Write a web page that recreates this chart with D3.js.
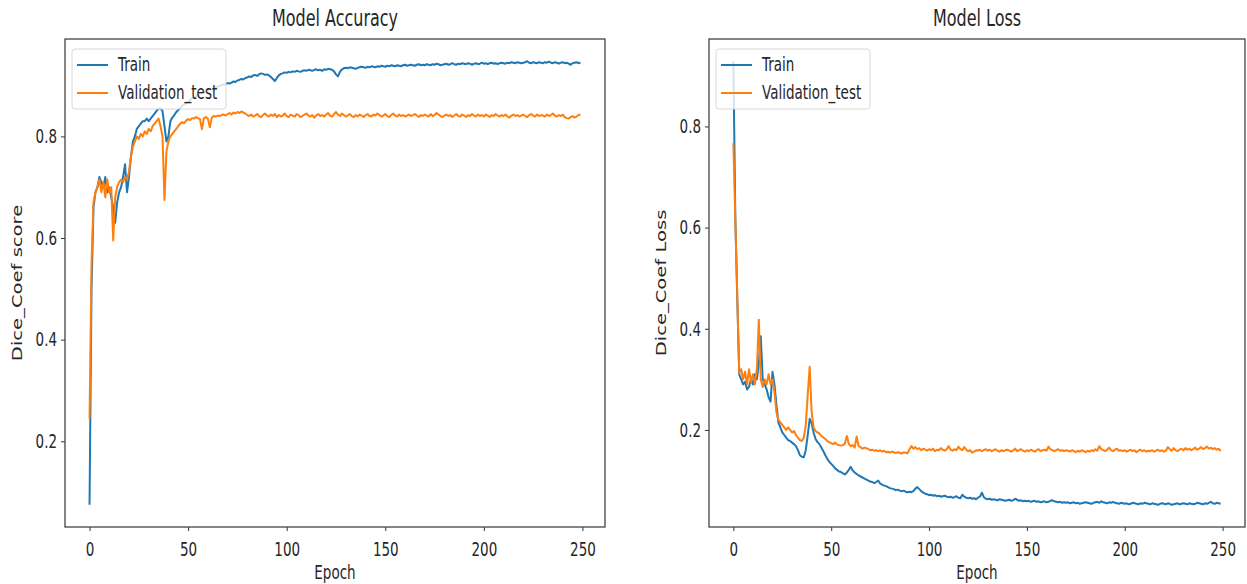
<!DOCTYPE html>
<meta charset="utf-8">
<style>
body { margin: 0; background: #fff; }
text { font-family: "DejaVu Sans", sans-serif; fill: #262626; }
</style>
<svg width="1247" height="584"></svg>
<script src="https://d3js.org/d3.v7.min.js"></script>
<script>

// ---- data ----
var epochTicks = [0, 50, 100, 150, 200, 250];
var yTicks = [0.2, 0.4, 0.6, 0.8];
var seriesNames = ["Train", "Validation_test"];

var accTrain = [
  0.075, 0.50, 0.66, 0.69, 0.70, 0.72, 0.71, 0.70, 0.72, 0.69,
  0.70, 0.68, 0.66, 0.63, 0.67, 0.69, 0.70, 0.72, 0.745, 0.69,
  0.72, 0.76, 0.79, 0.80, 0.815, 0.82, 0.825, 0.83, 0.83, 0.835,
  0.83, 0.835, 0.84, 0.845, 0.85, 0.855, 0.855, 0.85, 0.82, 0.79,
  0.80, 0.83, 0.837, 0.842, 0.848, 0.852, 0.856, 0.86, 0.863, 0.866,
  0.868, 0.872, 0.875, 0.877, 0.879, 0.882, 0.884, 0.886, 0.888, 0.889,
  0.891, 0.893, 0.892, 0.895, 0.897, 0.898, 0.899, 0.901, 0.902, 0.903,
  0.905, 0.904, 0.906, 0.908, 0.907, 0.910, 0.911, 0.913, 0.912, 0.915,
  0.916, 0.918, 0.917, 0.920, 0.921, 0.919, 0.922, 0.924, 0.923, 0.921,
  0.922, 0.920, 0.917, 0.913, 0.909, 0.915, 0.920, 0.923, 0.924, 0.926,
  0.925, 0.927, 0.926, 0.928, 0.927, 0.929, 0.928, 0.927, 0.929, 0.930,
  0.929, 0.931, 0.930, 0.929, 0.931, 0.932, 0.930, 0.931, 0.929, 0.932,
  0.931, 0.933, 0.932, 0.931, 0.928, 0.922, 0.918, 0.927, 0.932, 0.934,
  0.935, 0.934, 0.936, 0.935, 0.934, 0.933, 0.935, 0.936, 0.937, 0.936,
  0.935, 0.937, 0.936, 0.938, 0.937, 0.936, 0.938, 0.937, 0.939, 0.938,
  0.937, 0.939, 0.938, 0.940, 0.939, 0.938, 0.940, 0.939, 0.938, 0.940,
  0.941, 0.939, 0.940, 0.941, 0.940, 0.939, 0.941, 0.942, 0.940, 0.941,
  0.940, 0.942, 0.941, 0.940, 0.942, 0.941, 0.943, 0.942, 0.940, 0.941,
  0.942, 0.943, 0.941, 0.942, 0.944, 0.942, 0.941, 0.943, 0.942, 0.944,
  0.943, 0.942, 0.944, 0.943, 0.941, 0.943, 0.944, 0.942, 0.943, 0.945,
  0.943, 0.944, 0.942, 0.944, 0.945, 0.943, 0.944, 0.942, 0.944, 0.945,
  0.944, 0.943, 0.945, 0.944, 0.946, 0.945, 0.944, 0.946, 0.945, 0.944,
  0.945, 0.946, 0.948, 0.945, 0.944, 0.946, 0.945, 0.944, 0.946, 0.945,
  0.944, 0.946, 0.945, 0.947, 0.945, 0.944, 0.946, 0.945, 0.943, 0.945,
  0.946, 0.944, 0.945, 0.943, 0.941, 0.944, 0.945, 0.946, 0.944, 0.945
];

var accVal = [
  0.245, 0.55, 0.67, 0.69, 0.70, 0.715, 0.69, 0.71, 0.68, 0.715,
  0.69, 0.70, 0.595, 0.68, 0.70, 0.71, 0.715, 0.71, 0.72, 0.715,
  0.73, 0.76, 0.78, 0.79, 0.80, 0.795, 0.805, 0.80, 0.81, 0.805,
  0.815, 0.81, 0.82, 0.825, 0.83, 0.835, 0.82, 0.80, 0.675, 0.77,
  0.79, 0.80, 0.805, 0.81, 0.815, 0.82, 0.825, 0.828, 0.826, 0.831,
  0.834, 0.832, 0.836, 0.835, 0.838, 0.836, 0.834, 0.814, 0.836, 0.838,
  0.835, 0.818, 0.837, 0.840, 0.839, 0.841, 0.840, 0.842, 0.843, 0.841,
  0.844, 0.846, 0.843, 0.847, 0.845, 0.848, 0.846, 0.849, 0.847, 0.845,
  0.842, 0.840, 0.843, 0.839, 0.841, 0.844, 0.840, 0.838, 0.842, 0.845,
  0.841, 0.839, 0.843, 0.840, 0.844, 0.838, 0.842, 0.839, 0.841, 0.845,
  0.840, 0.838, 0.843, 0.841, 0.839, 0.844, 0.842, 0.838, 0.840, 0.843,
  0.845, 0.841, 0.839, 0.842, 0.837, 0.841, 0.844, 0.840, 0.842, 0.839,
  0.843, 0.846, 0.841, 0.839, 0.844, 0.848, 0.843, 0.840, 0.845, 0.842,
  0.839, 0.841, 0.844, 0.840, 0.838, 0.842, 0.839, 0.843, 0.841, 0.838,
  0.842, 0.844, 0.840, 0.839, 0.843, 0.841, 0.845, 0.842, 0.839, 0.841,
  0.844, 0.840, 0.838, 0.842, 0.845, 0.841, 0.839, 0.843, 0.840, 0.842,
  0.839, 0.841, 0.843, 0.840, 0.842, 0.844, 0.841, 0.838, 0.842, 0.840,
  0.843, 0.841, 0.839, 0.844, 0.840, 0.842, 0.846, 0.843, 0.840, 0.838,
  0.841, 0.843, 0.840, 0.842, 0.838, 0.841, 0.844, 0.840, 0.839, 0.843,
  0.841, 0.838, 0.842, 0.840, 0.844, 0.841, 0.839, 0.843, 0.840, 0.842,
  0.839, 0.843, 0.841, 0.838, 0.842, 0.840, 0.844, 0.841, 0.839, 0.842,
  0.840, 0.843, 0.839, 0.837, 0.841, 0.843, 0.840, 0.842, 0.839, 0.841,
  0.843, 0.840, 0.838, 0.842, 0.844, 0.841, 0.839, 0.843, 0.840, 0.842,
  0.841, 0.839, 0.843, 0.840, 0.842, 0.845, 0.841, 0.839, 0.842, 0.840,
  0.843, 0.838, 0.836, 0.835, 0.838, 0.840, 0.837, 0.839, 0.842, 0.843
];

var lossTrain = [
  0.929, 0.62, 0.46, 0.31, 0.30, 0.29, 0.295, 0.28, 0.285, 0.30,
  0.29, 0.31, 0.30, 0.33, 0.385, 0.30, 0.29, 0.28, 0.265, 0.256,
  0.315, 0.29, 0.25, 0.215, 0.205, 0.195, 0.19, 0.185, 0.18, 0.178,
  0.175, 0.172, 0.168, 0.16, 0.15, 0.147, 0.146, 0.16, 0.19, 0.222,
  0.213, 0.195, 0.182, 0.176, 0.172, 0.165, 0.158, 0.15, 0.143, 0.137,
  0.133, 0.129, 0.124, 0.121, 0.118, 0.117, 0.114, 0.112, 0.116, 0.121,
  0.127, 0.12, 0.116, 0.113, 0.11, 0.108, 0.106, 0.104, 0.102, 0.1,
  0.098, 0.097, 0.095, 0.097, 0.1, 0.094, 0.092, 0.09, 0.089, 0.087,
  0.085, 0.084, 0.083, 0.081, 0.082, 0.08, 0.079, 0.08, 0.078, 0.077,
  0.078, 0.077, 0.079, 0.084, 0.087, 0.083, 0.079, 0.076, 0.074, 0.073,
  0.071, 0.072, 0.07, 0.071, 0.069, 0.07, 0.068, 0.069, 0.07, 0.068,
  0.067, 0.068, 0.066, 0.067, 0.069, 0.066, 0.065, 0.072, 0.068, 0.066,
  0.065, 0.066, 0.064, 0.065, 0.063, 0.066, 0.068, 0.076, 0.067, 0.064,
  0.063, 0.064, 0.062, 0.063, 0.062, 0.061, 0.063, 0.062, 0.061, 0.06,
  0.061, 0.062, 0.06, 0.061, 0.064, 0.062, 0.06, 0.061, 0.059, 0.06,
  0.059, 0.06, 0.058, 0.059, 0.06, 0.058, 0.059, 0.057, 0.058, 0.059,
  0.057, 0.058, 0.06, 0.061, 0.059, 0.058, 0.057, 0.058, 0.056, 0.057,
  0.056, 0.057, 0.055, 0.056, 0.057, 0.055, 0.056, 0.054, 0.055, 0.056,
  0.057, 0.056, 0.055, 0.054, 0.056, 0.057, 0.058, 0.056, 0.059, 0.057,
  0.056, 0.055, 0.057, 0.056, 0.058, 0.056, 0.055, 0.054, 0.056, 0.055,
  0.054, 0.055, 0.053, 0.054, 0.056, 0.055, 0.054, 0.053, 0.055, 0.054,
  0.056, 0.055, 0.054, 0.053, 0.055, 0.054, 0.053, 0.052, 0.054, 0.055,
  0.054, 0.053, 0.055, 0.054, 0.052, 0.053, 0.054, 0.055, 0.053, 0.054,
  0.055, 0.054, 0.053, 0.055, 0.054, 0.053, 0.054, 0.056, 0.055, 0.054,
  0.053, 0.055, 0.054, 0.056, 0.058, 0.055, 0.054, 0.056, 0.055, 0.054
];

var lossVal = [
  0.767, 0.615, 0.464, 0.313, 0.32, 0.30, 0.315, 0.29, 0.32, 0.295,
  0.31, 0.29, 0.32, 0.418, 0.30, 0.285, 0.30, 0.29, 0.31, 0.29,
  0.30, 0.275, 0.235, 0.22, 0.215, 0.21, 0.205, 0.2, 0.205, 0.2,
  0.195, 0.198, 0.19, 0.185, 0.18, 0.178, 0.185, 0.21, 0.27, 0.325,
  0.235, 0.205, 0.198, 0.195, 0.193, 0.188, 0.185, 0.182, 0.178, 0.176,
  0.174, 0.172, 0.175, 0.171, 0.17, 0.169, 0.17, 0.173, 0.188, 0.172,
  0.168, 0.17, 0.165, 0.187, 0.168, 0.166, 0.163, 0.165, 0.164, 0.162,
  0.16, 0.161, 0.159, 0.16, 0.158, 0.16, 0.157, 0.159, 0.156, 0.157,
  0.155, 0.157, 0.156, 0.154, 0.156, 0.155, 0.153, 0.156, 0.155, 0.154,
  0.162, 0.168, 0.163, 0.166, 0.162, 0.164, 0.16, 0.163, 0.161, 0.159,
  0.162, 0.16, 0.163, 0.158, 0.161, 0.16, 0.164, 0.161, 0.159, 0.162,
  0.168, 0.161, 0.159, 0.162, 0.16, 0.167, 0.162, 0.16, 0.166, 0.161,
  0.158, 0.16, 0.155, 0.157, 0.16, 0.159, 0.161, 0.158, 0.16, 0.162,
  0.159, 0.161, 0.158, 0.16, 0.162, 0.159, 0.157, 0.16, 0.158, 0.16,
  0.161, 0.159, 0.157, 0.16, 0.163, 0.158, 0.16, 0.162, 0.159, 0.157,
  0.16, 0.158, 0.161, 0.159, 0.157, 0.16, 0.162, 0.158, 0.16, 0.161,
  0.159, 0.167, 0.162, 0.16, 0.158, 0.16, 0.162, 0.159, 0.16, 0.158,
  0.16, 0.159, 0.157, 0.16, 0.158, 0.156, 0.159, 0.157, 0.16, 0.158,
  0.156, 0.159, 0.157, 0.16, 0.158, 0.162, 0.159, 0.168, 0.162, 0.16,
  0.158, 0.161, 0.165, 0.16, 0.158, 0.161, 0.163, 0.159, 0.16, 0.158,
  0.16, 0.157, 0.159, 0.161, 0.158, 0.16, 0.156, 0.159, 0.161, 0.158,
  0.16, 0.157, 0.159, 0.158, 0.16, 0.157, 0.159, 0.161, 0.158, 0.16,
  0.157, 0.159, 0.166, 0.162, 0.159, 0.164, 0.16, 0.158, 0.161, 0.163,
  0.16, 0.164, 0.161, 0.163, 0.16, 0.162, 0.165, 0.161, 0.163, 0.166,
  0.162, 0.164, 0.167, 0.163, 0.165, 0.162, 0.164, 0.161, 0.163, 0.158
];

// ---- drawing ----
var svg = d3.select("svg");
var K = 1.45;           // the picture is stretched vertically; text follows
var FS = 13.5;
var colours = ["#1f77b4", "#ff7f0e"];

svg.append("rect").attr("width", 1247).attr("height", 584).attr("fill", "#fff");

function stretchedText(g, x, y, str, size, anchor, rot) {
  return g.append("text")
    .attr("transform", "translate(" + x + "," + y + ") scale(1," + K + ")" + (rot ? " rotate(" + rot + ")" : ""))
    .attr("text-anchor", anchor)
    .style("font-size", size + "px")
    .text(str);
}

function drawPanel(p) {
  var n = p.train.length;
  var x = d3.scaleLinear()
    .domain([-(n - 1) * 0.05, (n - 1) * 1.05])
    .range([p.left, p.right]);
  var ext = d3.extent(p.train.concat(p.val));
  var pad = (ext[1] - ext[0]) * 0.05;
  var y = d3.scaleLinear()
    .domain([ext[0] - pad, ext[1] + pad])
    .range([p.bottom, p.top]);

  var g = svg.append("g");

  var line = d3.line()
    .x(function(d, i) { return x(i); })
    .y(function(d) { return y(d); });

  [p.train, p.val].forEach(function(s, i) {
    g.append("path")
      .datum(s)
      .attr("d", line)
      .attr("fill", "none")
      .attr("stroke", colours[i])
      .attr("stroke-width", 2)
      .attr("stroke-linejoin", "round");
  });

  // axes
  var xa = g.append("g")
    .attr("transform", "translate(0," + p.bottom + ")")
    .call(d3.axisBottom(x).tickValues(epochTicks).tickFormat(d3.format("d")).tickSize(4).tickSizeOuter(0).tickPadding(4));
  xa.selectAll("text")
    .attr("y", 15 / K)
    .attr("transform", "scale(1," + K + ")")
    .style("font-size", FS + "px");

  var ya = g.append("g")
    .attr("transform", "translate(" + p.left + ",0)")
    .call(d3.axisLeft(y).tickValues(yTicks).tickFormat(d3.format(".1f")).tickSize(4).tickSizeOuter(0).tickPadding(4));
  ya.selectAll("text")
    .attr("transform", "scale(1," + K + ")")
    .attr("y", 0)
    .style("font-size", FS + "px");

  g.selectAll(".domain").remove();
  g.selectAll(".tick line").attr("stroke", "#333").attr("stroke-width", 1);
  g.selectAll(".tick text").style("fill", "#262626").style("font-family", "DejaVu Sans");

  // frame
  g.append("rect")
    .attr("x", p.left).attr("y", p.top)
    .attr("width", p.right - p.left).attr("height", p.bottom - p.top)
    .attr("fill", "none").attr("stroke", "#444").attr("stroke-width", 1.3);

  // titles and labels
  stretchedText(g, (p.left + p.right) / 2, 26, p.title, 16, "middle");
  stretchedText(g, (p.left + p.right) / 2, 579, "Epoch", FS, "middle");
  stretchedText(g, p.left - 43, (p.top + p.bottom) / 2, p.ylabel, FS, "middle", -90);

  // legend
  var lx = p.left + 7, ly = 49;
  g.append("rect")
    .attr("x", lx).attr("y", ly)
    .attr("width", 154).attr("height", 60)
    .attr("rx", 3)
    .attr("fill", "#fff").attr("fill-opacity", 0.8)
    .attr("stroke", "#d8d8d8").attr("stroke-width", 1);
  seriesNames.forEach(function(name, i) {
    var yy = ly + 16 + i * 28;
    g.append("line")
      .attr("x1", lx + 5).attr("x2", lx + 36)
      .attr("y1", yy).attr("y2", yy)
      .attr("stroke", colours[i]).attr("stroke-width", 2);
    stretchedText(g, lx + 46, yy + 6, name, FS, "start");
  });
}

drawPanel({ left: 65, right: 605, top: 39, bottom: 527,
            train: accTrain, val: accVal,
            title: "Model Accuracy", ylabel: "Dice_Coef score" });
drawPanel({ left: 709, right: 1245, top: 39, bottom: 527,
            train: lossTrain, val: lossVal,
            title: "Model Loss", ylabel: "Dice_Coef Loss" });

</script>
